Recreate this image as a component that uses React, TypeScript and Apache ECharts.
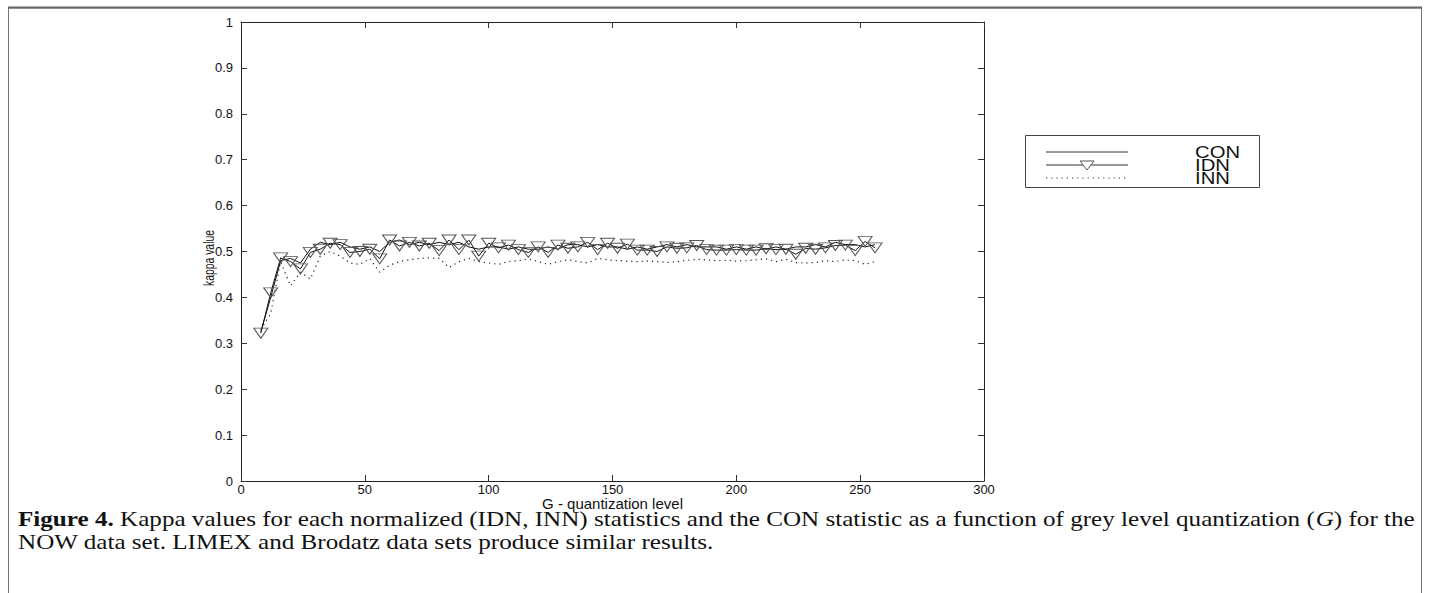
import React, { useEffect, useRef } from "react";
import * as echarts from "echarts";

const G = [8, 12, 16, 20, 24, 28, 32, 36, 40, 44, 48, 52, 56, 60, 64, 68, 72, 76, 80, 84, 88, 92, 96, 100, 104, 108, 112, 116, 120, 124, 128, 132, 136, 140, 144, 148, 152, 156, 160, 164, 168, 172, 176, 180, 184, 188, 192, 196, 200, 204, 208, 212, 216, 220, 224, 228, 232, 236, 240, 244, 248, 252, 256];

const CON = [0.325, 0.4, 0.48, 0.485, 0.475, 0.505, 0.52, 0.515, 0.52, 0.51, 0.505, 0.51, 0.5, 0.52, 0.525, 0.515, 0.52, 0.515, 0.52, 0.515, 0.52, 0.51, 0.505, 0.51, 0.51, 0.505, 0.51, 0.505, 0.505, 0.51, 0.505, 0.515, 0.515, 0.51, 0.515, 0.51, 0.51, 0.505, 0.51, 0.505, 0.51, 0.515, 0.51, 0.515, 0.51, 0.51, 0.51, 0.505, 0.51, 0.505, 0.51, 0.505, 0.51, 0.505, 0.51, 0.51, 0.515, 0.51, 0.52, 0.515, 0.515, 0.51, 0.515];

const IDN = [0.322, 0.41, 0.486, 0.478, 0.462, 0.498, 0.505, 0.518, 0.515, 0.498, 0.5, 0.505, 0.484, 0.525, 0.512, 0.52, 0.512, 0.518, 0.502, 0.525, 0.504, 0.525, 0.49, 0.518, 0.508, 0.514, 0.504, 0.498, 0.51, 0.498, 0.514, 0.507, 0.51, 0.52, 0.504, 0.518, 0.507, 0.516, 0.503, 0.503, 0.5, 0.51, 0.507, 0.508, 0.513, 0.504, 0.503, 0.503, 0.504, 0.503, 0.503, 0.506, 0.504, 0.505, 0.494, 0.507, 0.505, 0.508, 0.513, 0.514, 0.502, 0.522, 0.508];

const INN = [0.33, 0.365, 0.478, 0.425, 0.455, 0.44, 0.49, 0.5, 0.49, 0.475, 0.472, 0.485, 0.455, 0.47, 0.478, 0.482, 0.485, 0.486, 0.485, 0.465, 0.478, 0.485, 0.478, 0.475, 0.472, 0.478, 0.48, 0.484, 0.478, 0.472, 0.478, 0.482, 0.478, 0.475, 0.485, 0.482, 0.48, 0.479, 0.478, 0.479, 0.478, 0.476, 0.478, 0.481, 0.483, 0.482, 0.48, 0.481, 0.479, 0.48, 0.482, 0.484, 0.478, 0.483, 0.476, 0.475, 0.476, 0.48, 0.478, 0.482, 0.48, 0.472, 0.478];

const SERIES_NAMES = ["CON", "IDN", "INN"];
const X_LABEL = "G - quantization level";
const Y_LABEL = "kappa value";
const CAPTION_1 =
  "{b|Figure 4.} Kappa values for each normalized (IDN, INN) statistics and the CON statistic as a function of grey level quantization ({i|G}) for the";
const CAPTION_2 = "NOW data set. LIMEX and Brodatz data sets produce similar results.";

const zip = (ys: number[]) => G.map((g, i) => [g, ys[i]]);

const SANS = "'Liberation Sans', Arial, Helvetica, sans-serif";
const SERIF = "'Liberation Serif', 'Times New Roman', serif";
const CAP_SIZE = 20;

function measureWidth(style: any): number {
  const t = new (echarts.graphic as any).Text({ style });
  return t.getBoundingRect().width;
}

export default function App() {
  const ref = useRef<HTMLDivElement>(null);
  useEffect(() => {
    const chart = echarts.init(ref.current!, null, { renderer: "svg" });
    const axisCommon = {
      type: "value" as const,
      axisLine: { show: true, onZero: false, lineStyle: { color: "#222", width: 1 } },
      axisTick: { show: true, inside: true, length: 6, lineStyle: { color: "#333" } },
      splitLine: { show: false },
    };
    const legendX1 = 1046;
    const legendX2 = 1128;
    const rows = [152, 165, 178];

    const capRich = {
      b: { fontWeight: "bold", fontFamily: SERIF, fontSize: CAP_SIZE, fill: "#111" },
      i: { fontStyle: "italic", fontFamily: SERIF, fontSize: CAP_SIZE, fill: "#111" },
    };
    const capStyle1 = { text: CAPTION_1, font: `${CAP_SIZE}px ${SERIF}`, rich: capRich };
    const capW = measureWidth(capStyle1) || 1;
    const capScale = 1397 / capW;

    const legFont = `16px ${SANS}`;
    const conW = measureWidth({ text: "CON", font: legFont }) || 1;
    const legScale = 45 / conW;

    const yNameFont = `14px ${SANS}`;
    const yNameW = measureWidth({ text: Y_LABEL, font: yNameFont }) || 1;
    const yNameScale = 56 / yNameW;

    const xNameFont = `15px ${SANS}`;

    chart.setOption({
      animation: false,
      backgroundColor: "#fff",
      grid: { left: 241, right: 446, top: 22, bottom: 112, containLabel: false },
      xAxis: [
        {
          ...axisCommon,
          position: "bottom",
          min: 0,
          max: 300,
          interval: 50,
          axisLabel: { color: "#111", fontFamily: SANS, fontSize: 13, margin: 2 },
        },
        {
          ...axisCommon,
          position: "top",
          min: 0,
          max: 300,
          interval: 50,
          axisLabel: { show: false },
        },
      ],
      yAxis: [
        {
          ...axisCommon,
          position: "left",
          min: 0,
          max: 1,
          interval: 0.1,
          axisLabel: {
            color: "#111",
            fontFamily: SANS,
            fontSize: 13,
            margin: 8,
            formatter: (v: number) => String(Math.round(v * 10) / 10),
          },
        },
        {
          ...axisCommon,
          position: "right",
          min: 0,
          max: 1,
          interval: 0.1,
          axisLabel: { show: false },
        },
      ],
      series: [
        {
          name: SERIES_NAMES[0],
          type: "line",
          data: zip(CON),
          symbol: "none",
          lineStyle: { color: "#111", width: 1 },
          z: 3,
        },
        {
          name: SERIES_NAMES[1],
          type: "line",
          data: zip(IDN),
          symbol: "triangle",
          symbolRotate: 180,
          symbolSize: [14, 10],
          showAllSymbol: true,
          itemStyle: { color: "rgba(255,255,255,0)", borderColor: "#555", borderWidth: 1 },
          lineStyle: { color: "#111", width: 1 },
          z: 4,
        },
        {
          name: SERIES_NAMES[2],
          type: "line",
          data: zip(INN),
          symbol: "none",
          lineStyle: { color: "#222", width: 1.2, type: [1.2, 4] },
          z: 2,
        },
      ],
      graphic: [
        {
          type: "rect",
          shape: { x: 8.5, y: 8, width: 1413, height: 620 },
          style: { fill: "none", stroke: "#777", lineWidth: 1 },
          silent: true,
        },
        {
          type: "line",
          shape: { x1: 8, y1: 7.5, x2: 1422, y2: 7.5 },
          style: { stroke: "#666", lineWidth: 2 },
          silent: true,
        },
        {
          type: "text",
          x: 209,
          y: 258,
          rotation: Math.PI / 2,
          scaleX: yNameScale,
          style: {
            text: Y_LABEL,
            fill: "#111",
            font: yNameFont,
            align: "center",
            verticalAlign: "middle",
          },
        },
        {
          type: "text",
          x: 612.5,
          y: 503,
          style: {
            text: X_LABEL,
            fill: "#111",
            font: xNameFont,
            align: "center",
            verticalAlign: "middle",
          },
        },
        {
          type: "rect",
          shape: { x: 1025.5, y: 135.5, width: 234, height: 52 },
          style: { fill: "#fff", stroke: "#444", lineWidth: 1 },
        },
        {
          type: "line",
          shape: { x1: legendX1, y1: rows[0], x2: legendX2, y2: rows[0] },
          style: { stroke: "#333", lineWidth: 1 },
        },
        {
          type: "line",
          shape: { x1: legendX1, y1: rows[1], x2: legendX2, y2: rows[1] },
          style: { stroke: "#333", lineWidth: 1 },
        },
        {
          type: "polygon",
          shape: {
            points: [
              [1080, rows[1] - 4],
              [1094, rows[1] - 4],
              [1087, rows[1] + 5],
            ],
          },
          style: { fill: "#fff", stroke: "#555", lineWidth: 1 },
        },
        {
          type: "line",
          shape: { x1: legendX1, y1: rows[2], x2: legendX2, y2: rows[2] },
          style: { stroke: "#333", lineWidth: 1.2, lineDash: [1.2, 4] },
        },
        {
          type: "text",
          x: 1195,
          y: rows[0] - 6.5,
          scaleX: legScale,
          style: {
            text: SERIES_NAMES.join("\n"),
            fill: "#111",
            font: legFont,
            lineHeight: 13,
            verticalAlign: "top",
          },
        },
        {
          type: "text",
          x: 18,
          y: 519,
          scaleX: capScale,
          style: {
            ...capStyle1,
            fill: "#111",
            verticalAlign: "middle",
          },
        },
        {
          type: "text",
          x: 18,
          y: 542,
          scaleX: capScale,
          style: {
            text: CAPTION_2,
            fill: "#111",
            font: `${CAP_SIZE}px ${SERIF}`,
            verticalAlign: "middle",
          },
        },
      ],
    });
    return () => chart.dispose();
  }, []);
  return (
    <div
      ref={ref}
      style={{ position: "absolute", left: 0, top: 0, width: 1430, height: 593, background: "#fff" }}
    />
  );
}
